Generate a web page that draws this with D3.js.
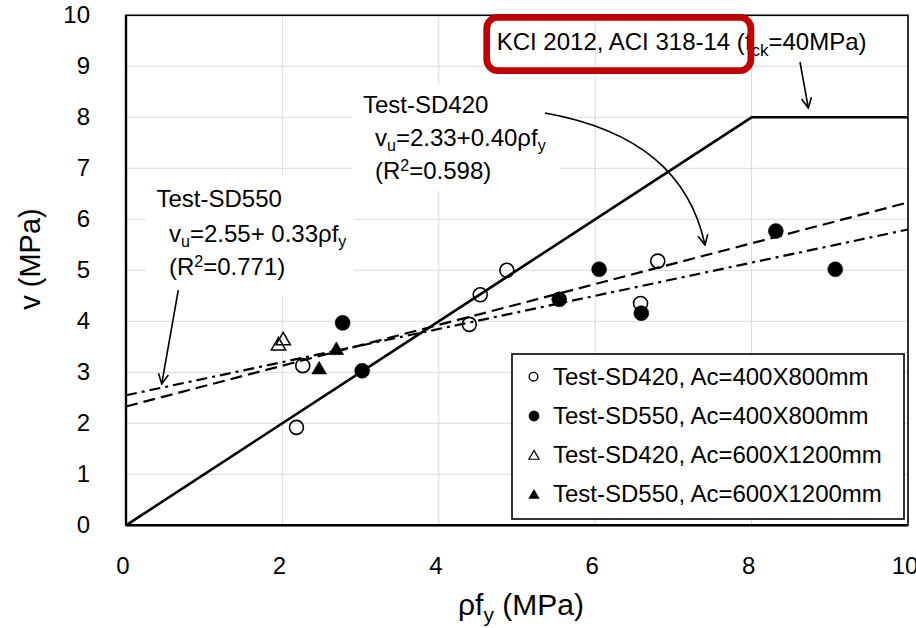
<!DOCTYPE html>
<html><head><meta charset="utf-8">
<script src="https://cdn.jsdelivr.net/npm/d3@7"></script>
<style>
body{margin:0;background:#fff}
text{font-family:Arial,'Liberation Sans',sans-serif;fill:#000}
</style>
</head><body>
<svg id="chart" width="916" height="628"></svg>
<script>
// ---------- data ----------
const xTicks = [0, 2, 4, 6, 8, 10];
const yTicks = [0, 1, 2, 3, 4, 5, 6, 7, 8, 9, 10];

const sd420_400_x = [2.18, 2.26, 4.39, 4.53, 4.87, 6.58, 6.80];
const sd420_400_y = [1.92, 3.13, 3.94, 4.52, 5.00, 4.35, 5.18];
const sd550_400_x = [2.77, 3.02, 5.54, 6.05, 6.59, 8.31, 9.07];
const sd550_400_y = [3.97, 3.03, 4.43, 5.02, 4.16, 5.77, 5.02];
const sd420_600_x = [1.95, 2.01];
const sd420_600_y = [3.52, 3.62];
const sd550_600_x = [2.47, 2.69];
const sd550_600_y = [3.05, 3.43];

const code_x = [0, 8, 10];
const code_y = [0, 8, 8];
const fit420_x = [0, 10];
const fit420_y = [2.33, 6.33];
const fit550_x = [0, 10];
const fit550_y = [2.55, 5.80];

const legendLabels = [
  "Test-SD420, Ac=400X800mm",
  "Test-SD550, Ac=400X800mm",
  "Test-SD420, Ac=600X1200mm",
  "Test-SD550, Ac=600X1200mm"
];

// ---------- setup ----------
const svg = d3.select("#chart");
const L = 126, R = 908, T = 15.3, B = 525.3;
const x = d3.scaleLinear().domain([0, 10]).range([L, R]);
const y = d3.scaleLinear().domain([0, 10]).range([B, T]);
const zip = (a, b) => a.map((v, i) => [v, b[i]]);

const defs = svg.append("defs");
defs.append("marker").attr("id", "arr")
  .attr("viewBox", "0 0 12 12").attr("refX", 11).attr("refY", 6)
  .attr("markerWidth", 12).attr("markerHeight", 12)
  .attr("markerUnits", "userSpaceOnUse").attr("orient", "auto")
  .append("path").attr("d", "M1,1 L11,6 L1,11")
  .attr("fill", "none").attr("stroke", "#000").attr("stroke-width", 1.6);

// horizontal grid
svg.append("g").selectAll("line").data(yTicks.slice(1)).join("line")
  .attr("x1", L).attr("x2", R).attr("y1", d => y(d)).attr("y2", d => y(d))
  .attr("stroke", "#d9d9d9").attr("stroke-width", 1);

// KCI text box background
svg.append("rect").attr("x", 483).attr("y", 15).attr("width", 271).attr("height", 59).attr("fill", "#fff");

// vertical grid
svg.append("g").selectAll("line").data(xTicks.slice(1, -1)).join("line")
  .attr("x1", d => x(d)).attr("x2", d => x(d)).attr("y1", T).attr("y2", B)
  .attr("stroke", "#d9d9d9").attr("stroke-width", 1);

// annotation text backgrounds
svg.append("rect").attr("x", 146).attr("y", 176).attr("width", 208).attr("height", 119).attr("fill", "#fff");
svg.append("rect").attr("x", 352).attr("y", 83).attr("width", 208).attr("height", 108).attr("fill", "#fff");

// axes
const xAxis = d3.axisBottom(x).tickValues(xTicks).tickSize(0).tickPadding(31.7).tickFormat(d3.format("d"));
const gx = svg.append("g").attr("transform", `translate(0,${B})`).call(xAxis);
gx.select(".domain").remove();
gx.selectAll("text").attr("font-size", 24).attr("font-family", "Arial,'Liberation Sans',sans-serif").attr("dx", -3.5);

const yAxis = d3.axisLeft(y).tickValues(yTicks).tickSize(0).tickPadding(36).tickFormat(d3.format("d"));
const gy = svg.append("g").attr("transform", `translate(${L},0)`).call(yAxis);
gy.select(".domain").remove();
gy.selectAll("text").attr("font-size", 24).attr("font-family", "Arial,'Liberation Sans',sans-serif");

// plot border
svg.append("rect").attr("x", L).attr("y", T).attr("width", R - L).attr("height", B - T)
  .attr("fill", "none").attr("stroke", "#000").attr("stroke-width", 1.6);
svg.append("line").attr("x1", L).attr("x2", L).attr("y1", T).attr("y2", B).attr("stroke", "#000").attr("stroke-width", 2.4);
svg.append("line").attr("x1", L).attr("x2", R).attr("y1", B).attr("y2", B).attr("stroke", "#000").attr("stroke-width", 2.4);

// lines
const line = d3.line().x(d => x(d[0])).y(d => y(d[1]));
svg.append("path").attr("d", line(zip(code_x, code_y)))
  .attr("fill", "none").attr("stroke", "#000").attr("stroke-width", 2.6);
svg.append("path").attr("d", line(zip(fit420_x, fit420_y)))
  .attr("fill", "none").attr("stroke", "#000").attr("stroke-width", 2.2).attr("stroke-dasharray", "12,6");
svg.append("path").attr("d", line(zip(fit550_x, fit550_y)))
  .attr("fill", "none").attr("stroke", "#000").attr("stroke-width", 2.2).attr("stroke-dasharray", "11,5,3,5");

// markers
function drawSeries(xs, ys, type, filled) {
  const g = svg.append("g");
  const data = zip(xs, ys);
  if (type === "circle") {
    g.selectAll("circle").data(data).join("circle")
      .attr("cx", d => x(d[0])).attr("cy", d => y(d[1]))
      .attr("r", filled ? 7.5 : 7)
      .attr("fill", filled ? "#000" : "none")
      .attr("stroke", "#000").attr("stroke-width", filled ? 0.5 : 1.6);
  } else {
    const sym = d3.symbol().type(d3.symbolTriangle).size(filled ? 95 : 90);
    g.selectAll("path").data(data).join("path")
      .attr("transform", d => `translate(${x(d[0])},${y(d[1])})`)
      .attr("d", sym)
      .attr("fill", filled ? "#000" : "none")
      .attr("stroke", "#000").attr("stroke-width", filled ? 0.5 : 1.5);
  }
}
drawSeries(sd420_400_x, sd420_400_y, "circle", false);
drawSeries(sd550_400_x, sd550_400_y, "circle", true);
drawSeries(sd420_600_x, sd420_600_y, "triangle", false);
drawSeries(sd550_600_x, sd550_600_y, "triangle", true);

// annotations
function eqText(xp, yb, intercept, slopeTxt) {
  const t = svg.append("text").attr("x", xp).attr("y", yb).attr("font-size", 24);
  t.append("tspan").text("v");
  t.append("tspan").attr("font-size", 16).attr("dy", 5).text("u");
  t.append("tspan").attr("dy", -5).text("=" + intercept + slopeTxt + "ρf");
  t.append("tspan").attr("font-size", 16).attr("dy", 5).text("y");
}
function r2Text(xp, yb, val) {
  const t = svg.append("text").attr("x", xp).attr("y", yb).attr("font-size", 24);
  t.append("tspan").text("(R");
  t.append("tspan").attr("font-size", 16).attr("dy", -8).text("2");
  t.append("tspan").attr("dy", 8).text("=" + val + ")");
}
svg.append("text").attr("x", 363).attr("y", 113).attr("font-size", 24).text("Test-SD420");
eqText(375, 145.5, "2.33", "+0.40");
r2Text(375, 179, "0.598");

svg.append("text").attr("x", 156.5).attr("y", 207).attr("font-size", 24).text("Test-SD550");
eqText(169, 241.5, "2.55", "+ 0.33");
r2Text(169, 275, "0.771");

// arrows
svg.append("path").attr("d", "M178.3,290 L161.7,384")
  .attr("fill", "none").attr("stroke", "#000").attr("stroke-width", 1.6).attr("marker-end", "url(#arr)");
svg.append("path").attr("d", "M545,113 C640,130 690,175 705,245")
  .attr("fill", "none").attr("stroke", "#000").attr("stroke-width", 1.6).attr("marker-end", "url(#arr)");
svg.append("path").attr("d", "M800,62 L808.3,108")
  .attr("fill", "none").attr("stroke", "#000").attr("stroke-width", 1.6).attr("marker-end", "url(#arr)");

// KCI text
const kt = svg.append("text").attr("x", 496.7).attr("y", 50).attr("font-size", 24);
kt.append("tspan").text("KCI 2012, ACI 318-14 (f");
kt.append("tspan").attr("font-size", 17).attr("dy", 6).text("ck");
kt.append("tspan").attr("dy", -6).text("=40MPa)");

// axis titles
const xt = svg.append("text").attr("x", 521).attr("y", 615).attr("font-size", 30).attr("text-anchor", "middle");
xt.append("tspan").text("ρf");
xt.append("tspan").attr("font-size", 21).attr("dy", 7).text("y");
xt.append("tspan").attr("dy", -7).text(" (MPa)");
svg.append("text").attr("transform", "translate(40,259) rotate(-90)")
  .attr("font-size", 29).attr("text-anchor", "middle").text("v (MPa)");

// legend
const lg = svg.append("g");
lg.append("rect").attr("x", 512).attr("y", 354).attr("width", 392).attr("height", 165)
  .attr("fill", "#fff").attr("stroke", "#000").attr("stroke-width", 1.6);
const rowY = i => 376.7 + i * 39.3;
lg.selectAll("text").data(legendLabels).join("text")
  .attr("x", 553).attr("y", (d, i) => rowY(i) + 7.8).attr("font-size", 24).text(d => d);
lg.append("circle").attr("cx", 533.5).attr("cy", rowY(0)).attr("r", 4.3).attr("fill", "none").attr("stroke", "#000").attr("stroke-width", 1.4);
lg.append("circle").attr("cx", 534).attr("cy", rowY(1)).attr("r", 5.4).attr("fill", "#000");
lg.append("path").attr("transform", `translate(534,${rowY(2) + 1})`).attr("d", d3.symbol().type(d3.symbolTriangle).size(45)())
  .attr("fill", "none").attr("stroke", "#000").attr("stroke-width", 1.2);
lg.append("path").attr("transform", `translate(534,${rowY(3) + 1})`).attr("d", d3.symbol().type(d3.symbolTriangle).size(55)())
  .attr("fill", "#000");

// red highlight box
svg.append("rect").attr("x", 486.7).attr("y", 17.4).attr("width", 264.2).attr("height", 53.2).attr("rx", 11)
  .attr("fill", "none").attr("stroke", "#c00000").attr("stroke-width", 6.7);
</script>
</body></html>
